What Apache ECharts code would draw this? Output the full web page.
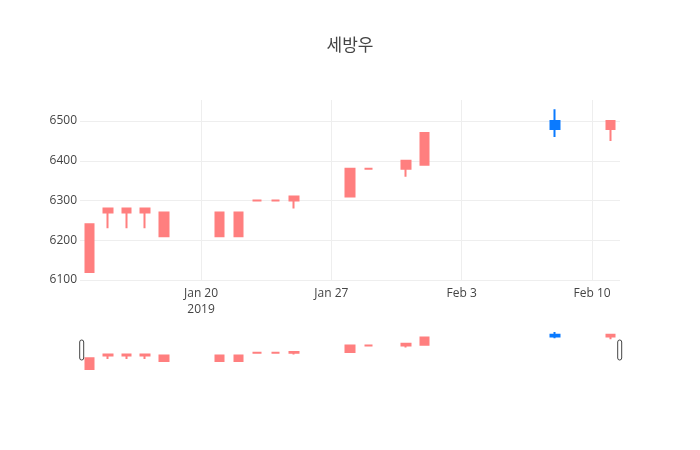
<!DOCTYPE html>
<html>
<head>
<meta charset="utf-8">
<script src="https://cdn.jsdelivr.net/npm/echarts@6/dist/echarts.min.js"></script>
<style>html,body{margin:0;padding:0;background:#fff}#c{width:700px;height:450px}</style>
</head>
<body>
<div id="c"></div>
<script>
// ---- data ----
const dates  = ['2019-01-14','2019-01-15','2019-01-16','2019-01-17','2019-01-18','2019-01-21','2019-01-22','2019-01-23','2019-01-24','2019-01-25','2019-01-28','2019-01-29','2019-01-31','2019-02-01','2019-02-08','2019-02-11'];
const opens  = [6120, 6270, 6270, 6270, 6210, 6210, 6210, 6300, 6300, 6300, 6310, 6380, 6380, 6390, 6500, 6480];
const closes = [6240, 6280, 6280, 6280, 6270, 6270, 6270, 6300, 6300, 6310, 6380, 6380, 6400, 6470, 6480, 6500];
const lows   = [6120, 6230, 6230, 6230, 6210, 6210, 6210, 6300, 6300, 6280, 6310, 6380, 6360, 6390, 6460, 6450];
const highs  = [6240, 6280, 6280, 6280, 6270, 6270, 6270, 6300, 6300, 6310, 6380, 6380, 6400, 6470, 6530, 6500];
const xTickDates = ['2019-01-20','2019-01-27','2019-02-03','2019-02-10'];
const yTicks = [6100, 6200, 6300, 6400, 6500];
const titleText = '세방우';

function ts(s){ const p = s.split(/[- :]/).map(Number); return Date.UTC(p[0], p[1]-1, p[2], p[3]||0, p[4]||0); }
const xMin = ts('2019-01-13 12:00');
const xMax = ts('2019-02-11 12:00');
const candle = dates.map((d,i)=>[ts(d), opens[i], closes[i], lows[i], highs[i]]);
const xTicks = xTickDates.map(ts);
const MON = ['Jan','Feb','Mar','Apr','May','Jun','Jul','Aug','Sep','Oct','Nov','Dec'];
const FONT = '"Open Sans", "Noto Sans CJK KR", sans-serif';
const UP = '#FF7F7F', DOWN = '#0A7AFF';

const chart = echarts.init(document.getElementById('c'), null, {renderer:'canvas'});
chart.setOption({
  animation:false,
  backgroundColor:'#fff',
  title:{ text:titleText, left:'center', top:33, textStyle:{fontFamily:FONT, fontSize:17, fontWeight:'normal', color:'#444'} },
  grid:[
    { left:80, right:80, top:100, height:180 },
    { left:80, right:80, top:326, height:48 }
  ],
  xAxis:[
    { type:'value', gridIndex:0, min:xMin, max:xMax, scale:true,
      axisLine:{show:false}, axisTick:{show:false, customValues:xTicks},
      splitLine:{show:true, customValues:xTicks, lineStyle:{color:'#eee', width:1}},
      axisLabel:{ customValues:xTicks, margin:6, color:'#444', fontFamily:FONT, fontSize:12, lineHeight:16,
        formatter:function(v){ const d=new Date(v); let s=MON[d.getUTCMonth()]+' '+d.getUTCDate(); if(v===xTicks[0]) s+='\n'+d.getUTCFullYear(); return s; } } },
    { type:'value', gridIndex:1, min:xMin, max:xMax, scale:true, show:false, splitLine:{show:false} }
  ],
  yAxis:[
    { type:'value', gridIndex:0, min:6100, max:6553, scale:true,
      axisLine:{show:false}, axisTick:{show:false, customValues:yTicks},
      splitLine:{show:true, customValues:yTicks, lineStyle:{color:'#eee', width:1}},
      axisLabel:{ customValues:yTicks, margin:3, color:'#444', fontFamily:FONT, fontSize:12,
        formatter:function(v){ return String(v); } } },
    { type:'value', gridIndex:1, min:6065, max:6597, scale:true, show:false, splitLine:{show:false} }
  ],
  dataZoom:[{
    type:'slider', xAxisIndex:[1], filterMode:'none', start:0, end:100,
    left:80, right:80, top:340, height:20,
    showDetail:false, showDataShadow:false, brushSelect:false, moveHandleSize:0,
    backgroundColor:'rgba(0,0,0,0)', borderColor:'rgba(0,0,0,0)', fillerColor:'rgba(0,0,0,0)',
    dataBackground:{lineStyle:{opacity:0}, areaStyle:{opacity:0}},
    selectedDataBackground:{lineStyle:{opacity:0}, areaStyle:{opacity:0}},
    handleIcon:'path://M2,0 a2,2 0 0 1 2,2 v16 a2,2 0 0 1 -2,2 a2,2 0 0 1 -2,-2 v-16 a2,2 0 0 1 2,-2 z',
    handleSize:'100%',
    handleStyle:{color:'#fff', borderColor:'#444', borderWidth:1},
    emphasis:{handleStyle:{color:'#fff', borderColor:'#444', borderWidth:1}},
    textStyle:{color:'rgba(0,0,0,0)'}
  }],
  series:[
    { type:'candlestick', xAxisIndex:0, yAxisIndex:0, data:candle, barWidth:9,
      itemStyle:{color:UP, color0:DOWN, borderColor:UP, borderColor0:DOWN, borderWidth:2} },
    { type:'candlestick', xAxisIndex:1, yAxisIndex:1, data:candle, barWidth:9,
      itemStyle:{color:UP, color0:DOWN, borderColor:UP, borderColor0:DOWN, borderWidth:2} }
  ]
});
</script>
</body>
</html>
